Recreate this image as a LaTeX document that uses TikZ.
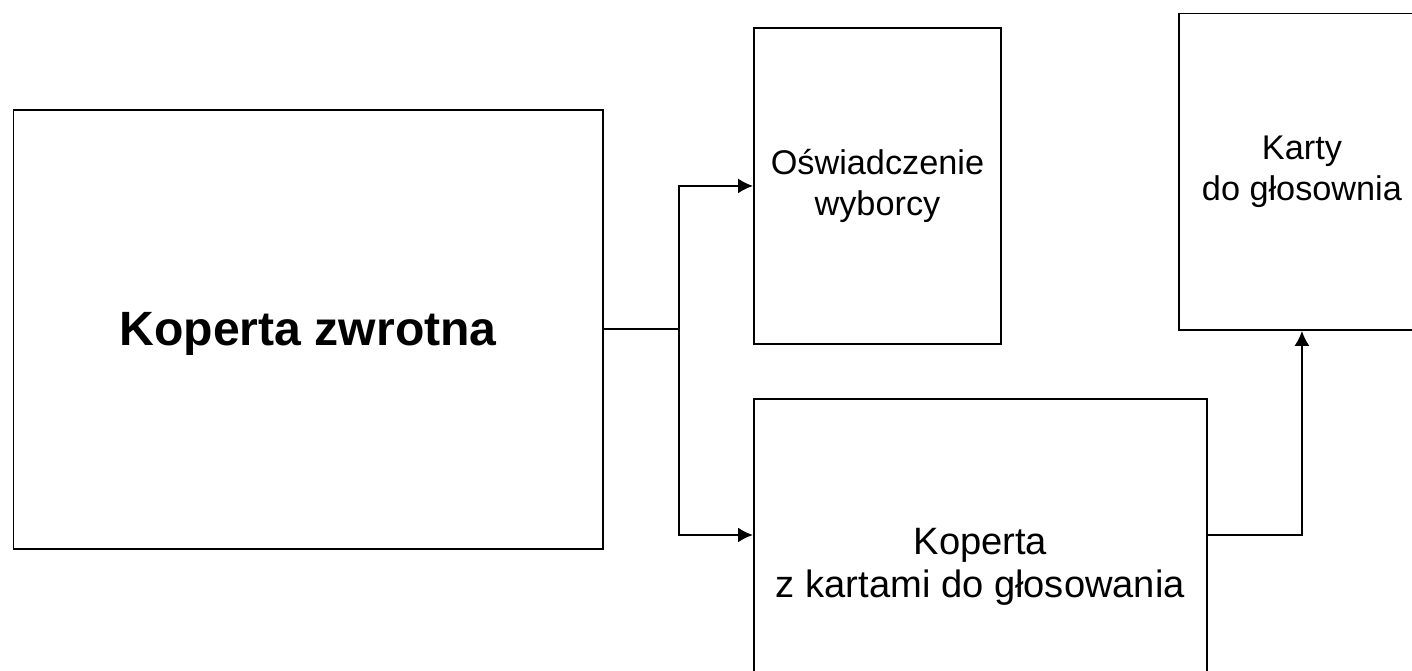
\documentclass[tikz,border=0pt]{standalone}
\usepackage{fontspec}
\setmainfont{Liberation Sans}
\usetikzlibrary{arrows.meta, positioning}

\begin{document}
\begin{tikzpicture}[
    x=0.02cm, y=-0.02cm,
    block/.style ={rectangle, draw=black, line width=1.1pt, fill=white, align=center, inner sep=0pt, anchor=north west, font=\fontsize{21.7}{24.5}\selectfont},
    small/.style ={font=\fontsize{19.5}{23.5}\selectfont},
    line/.style ={draw, line width=1.1pt, -{Latex[length=8.5pt,width=8.5pt]}},
]
\useasboundingbox (0,0) rectangle (1412,670);

% Nodes
\node [block, minimum width=11.79cm, minimum height=8.78cm, text depth=0pt, font=\fontsize{27.4}{32}\selectfont\bfseries] (zwrotna) at (12.5,109) {Koperta zwrotna};
\node [block, small, minimum width=4.94cm, minimum height=6.32cm] (oswiad) at (753,27) {Oświadczenie\\wyborcy};
\node [block, small, minimum width=4.92cm, minimum height=6.33cm] (karty) at (1178,12.5) {Karty\\do głosownia};
\node [block, minimum width=9.06cm, minimum height=6.72cm] (koperta) at (753,398) {Koperta\\z kartami do głosowania};

\coordinate (split) at ([xshift=1.5cm]zwrotna.east);
\coordinate (kin) at ([yshift=-2.74cm]koperta.north west);
\coordinate (kout) at ([yshift=-2.74cm]koperta.north east);

% Lines
\draw [line width=1.1pt] (zwrotna.east) -- (split);
\path [line] (split) |- (oswiad.west);
\path [line] (split) |- (kin);
\path [line] (kout) -| (karty.south);

\end{tikzpicture}
\end{document}
